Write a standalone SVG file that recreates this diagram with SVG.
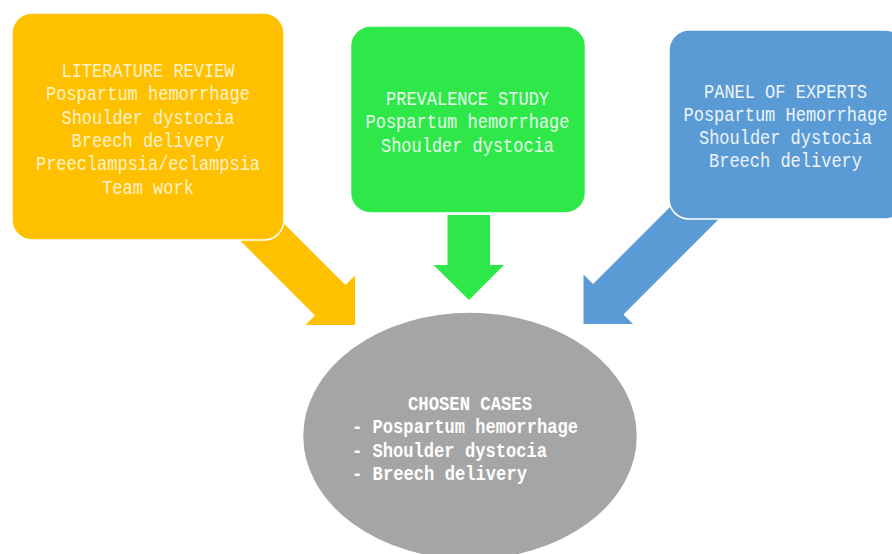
<svg xmlns="http://www.w3.org/2000/svg" width="892" height="554" viewBox="0 0 892 554">
  <defs>
    <style>
      .lbl { font-family: "Liberation Mono", "DejaVu Sans Mono", monospace; font-size: 20px; text-anchor: middle; }
      .box { stroke: #ffffff; stroke-width: 1.5; }
      .t-yellow { fill: #FFF2CC; }
      .t-green { fill: #E9FBEB; }
      .t-blue { fill: #EEF4FB; }
      .t-gray { fill: #ffffff; font-weight: bold; text-anchor: start; }
    </style>
    <!-- block arrow pointing along +x with its tip at the origin -->
    <polygon id="blockArrow" points="-175,-21.5 -35,-21.5 -35,-35 0,0 -35,35 -35,21.5 -175,21.5"/>
  </defs>

  <rect width="892" height="554" fill="#ffffff"/>

  <g id="connectors">
    <use href="#blockArrow" fill="#FFC000" transform="translate(355,325) rotate(45)"/>
    <polygon fill="#2EE84A" points="447.5,215 490,215 490,265 504,265 469,300 433.5,265 447.5,265"/>
    <use href="#blockArrow" fill="#5B9BD5" transform="translate(583.5,324) rotate(135)"/>
  </g>

  <g id="literature-review">
    <rect class="box" x="12" y="13" width="272" height="227" rx="20" fill="#FFC000"/>
    <g class="lbl t-yellow">
      <text x="148" y="77" textLength="173" lengthAdjust="spacingAndGlyphs">LITERATURE REVIEW</text>
      <text x="148" y="100.3" textLength="204" lengthAdjust="spacingAndGlyphs">Pospartum hemorrhage</text>
      <text x="148" y="123.6" textLength="173" lengthAdjust="spacingAndGlyphs">Shoulder dystocia</text>
      <text x="148" y="147" textLength="153" lengthAdjust="spacingAndGlyphs">Breech delivery</text>
      <text x="148" y="170.3" textLength="224" lengthAdjust="spacingAndGlyphs">Preeclampsia/eclampsia</text>
      <text x="148" y="193.6" textLength="92" lengthAdjust="spacingAndGlyphs">Team work</text>
    </g>
  </g>

  <g id="prevalence-study">
    <rect class="box" x="350.5" y="26" width="235" height="187" rx="20" fill="#2EE84A"/>
    <g class="lbl t-green">
      <text x="467.5" y="105" textLength="163" lengthAdjust="spacingAndGlyphs">PREVALENCE STUDY</text>
      <text x="467.5" y="128.3" textLength="204" lengthAdjust="spacingAndGlyphs">Pospartum hemorrhage</text>
      <text x="467.5" y="151.6" textLength="173" lengthAdjust="spacingAndGlyphs">Shoulder dystocia</text>
    </g>
  </g>

  <g id="panel-of-experts">
    <rect class="box" x="669" y="30" width="236" height="189" rx="20" fill="#5B9BD5"/>
    <g class="lbl t-blue">
      <text x="785.5" y="97.5" textLength="163" lengthAdjust="spacingAndGlyphs">PANEL OF EXPERTS</text>
      <text x="785.5" y="120.8" textLength="204" lengthAdjust="spacingAndGlyphs">Pospartum Hemorrhage</text>
      <text x="785.5" y="144.1" textLength="173" lengthAdjust="spacingAndGlyphs">Shoulder dystocia</text>
      <text x="785.5" y="167.4" textLength="153" lengthAdjust="spacingAndGlyphs">Breech delivery</text>
    </g>
  </g>

  <g id="chosen-cases">
    <ellipse cx="470" cy="436" rx="167.5" ry="124" fill="#A5A5A5" stroke="#ffffff" stroke-width="1.5"/>
    <g class="lbl t-gray">
      <text x="408" y="410" textLength="124" lengthAdjust="spacingAndGlyphs">CHOSEN CASES</text>
      <text x="352" y="433.3" textLength="226" lengthAdjust="spacingAndGlyphs">- Pospartum hemorrhage</text>
      <text x="352" y="456.7" textLength="195" lengthAdjust="spacingAndGlyphs">- Shoulder dystocia</text>
      <text x="352" y="480" textLength="175" lengthAdjust="spacingAndGlyphs">- Breech delivery</text>
    </g>
  </g>
</svg>
